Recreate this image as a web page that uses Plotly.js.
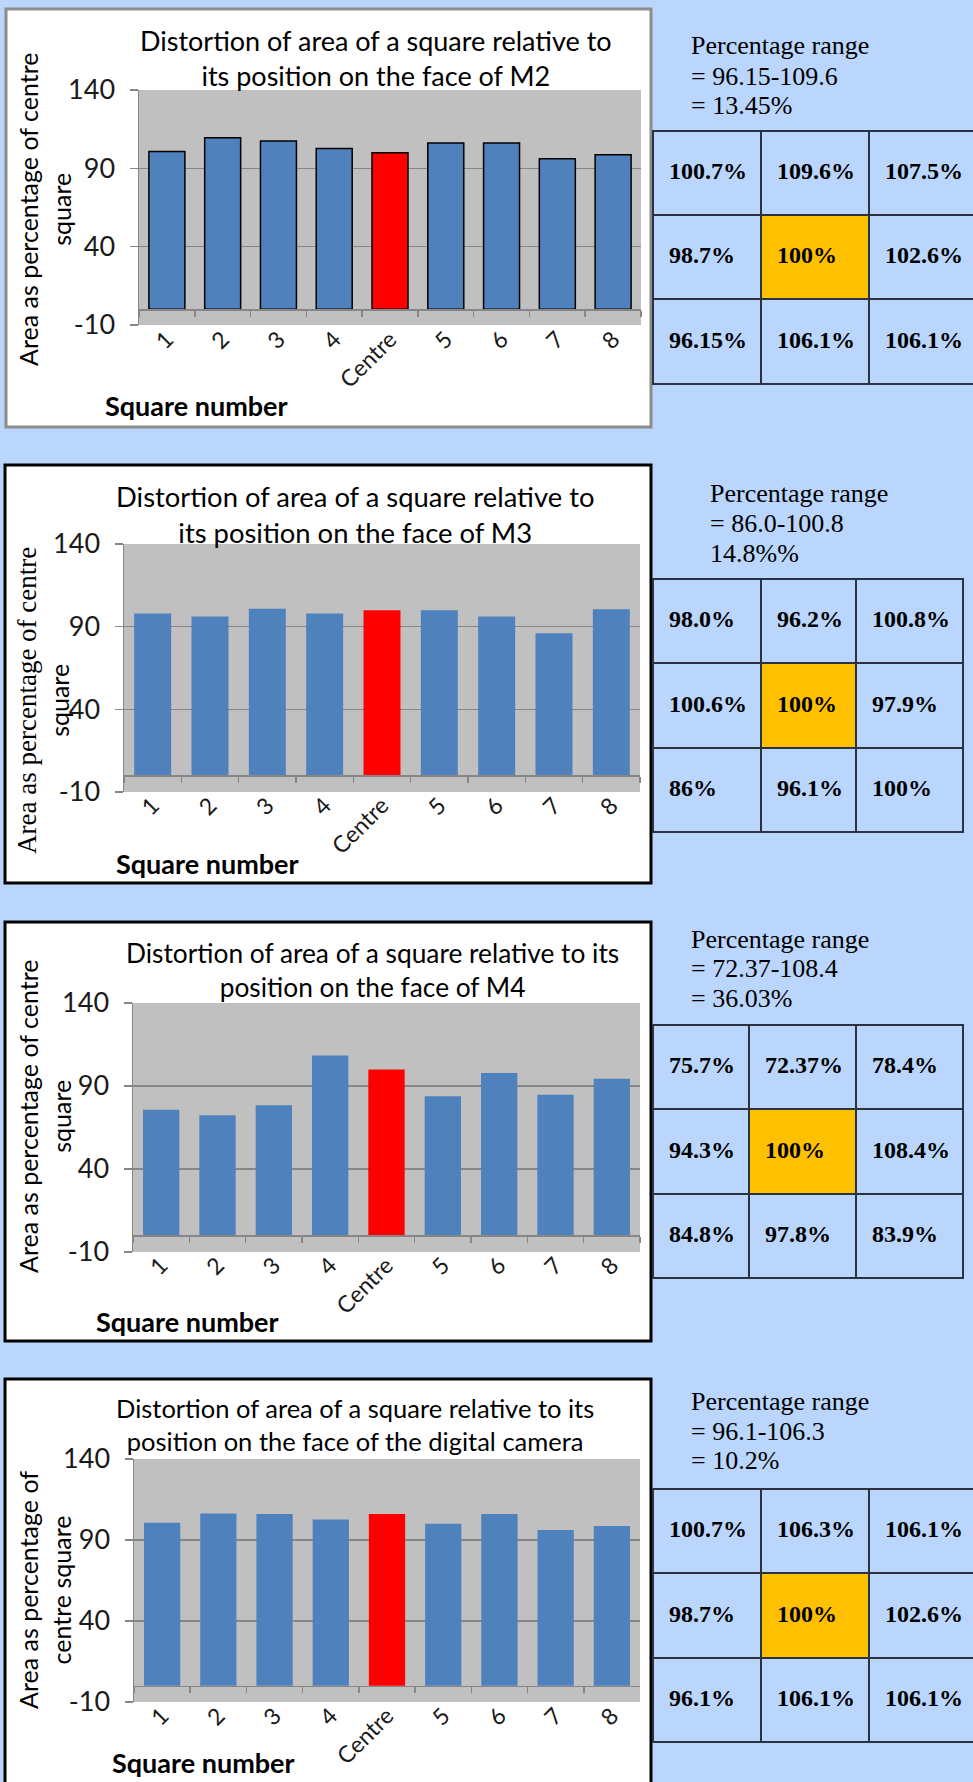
<!DOCTYPE html>
<html>
<head>
<meta charset="utf-8">
<script src="https://cdn.plot.ly/plotly-3.0.1.min.js"></script>
<style>
html, body { margin: 0; padding: 0; background: #BAD6FC; overflow: hidden; }
#chart { width: 985px; height: 1782px; }
</style>
</head>
<body>
<div id="chart"></div>
<script>
// ---------------- data ----------------
const categories = ['1', '2', '3', '4', 'Centre', '5', '6', '7', '8'];
const yTicks = [-10, 40, 90, 140];
const yTickText = ['-10', '40', '90', '140'];

const m2Values  = [100.7, 109.6, 107.5, 102.6, 100, 106.1, 106.1, 96.15, 98.7];
const m3Values  = [98.0, 96.2, 100.8, 97.9, 100, 100, 96.1, 86, 100.6];
const m4Values  = [75.7, 72.37, 78.4, 108.4, 100, 83.9, 97.8, 84.8, 94.3];
const camValues = [100.7, 106.3, 106.1, 102.6, 106.1, 100, 106.1, 96.1, 98.7];

const m2Grid  = [['100.7%', '109.6%', '107.5%'], ['98.7%', '100%', '102.6%'], ['96.15%', '106.1%', '106.1%']];
const m3Grid  = [['98.0%', '96.2%', '100.8%'], ['100.6%', '100%', '97.9%'], ['86%', '96.1%', '100%']];
const m4Grid  = [['75.7%', '72.37%', '78.4%'], ['94.3%', '100%', '108.4%'], ['84.8%', '97.8%', '83.9%']];
const camGrid = [['100.7%', '106.3%', '106.1%'], ['98.7%', '100%', '102.6%'], ['96.1%', '106.1%', '106.1%']];

const m2Range  = ['Percentage range', '= 96.15-109.6', '= 13.45%'];
const m3Range  = ['Percentage range', '= 86.0-100.8', '14.8%%'];
const m4Range  = ['Percentage range', '= 72.37-108.4', '= 36.03%'];
const camRange = ['Percentage range', '= 96.1-106.3', '= 10.2%'];

const m2Title  = 'Distortion of area of a square relative to<br>its position on the face of M2';
const m3Title  = 'Distortion of area of a square relative to<br>its position on the face of M3';
const m4Title  = 'Distortion of area of a square relative to its<br>position on the face of M4';
const camTitle = 'Distortion of area of a square relative to its<br>position on the face of the digital camera';

const yTitleA = 'Area as percentage of centre<br>square';
const yTitleSerif = '<span style="font-family:Liberation Serif;font-size:27px">Area as percentage of centre</span><br>square';
const yTitleB = 'Area as percentage of<br>centre square';
const xTitle = '<b>Square number</b>';

// ---------------- layout helpers ----------------
const W = 985, H = 1782;
const fx = px => px / W;
const fy = py => 1 - py / H;

const BLUE = '#4F81BD', RED = '#FF0000', GRAY_PLOT = '#C0C0C0', GRID = '#868686';
const CELL = '#BAD6FC', ORANGE = '#FFC000', TBL_LINE = '#2b3340';

const panels = [
  {vals: m2Values, grid: m2Grid, range: m2Range, title: m2Title, titleSize: 27, ytitle: yTitleA,
   box: [6, 9, 651, 427], boxLine: '#8c8c8c', plot: [139, 90, 641, 325], outline: 1.5,
   titleXY: [376, 58], yTitleXY: [44, 210], xTitleXY: [196, 405],
   rangeX: 689, rangeY: [45, 76, 106],
   tbl: {x0: 653, y0: 131, cols: [108, 108, 112], rows: [84, 84, 85]}},
  {vals: m3Values, grid: m3Grid, range: m3Range, title: m3Title, titleSize: 27.4, ytitle: yTitleSerif,
   box: [5, 465, 651, 883], boxLine: '#000000', plot: [124, 544, 640, 792], outline: 0,
   titleXY: [355, 514], yTitleXY: [43, 701], xTitleXY: [207, 863],
   rangeX: 708, rangeY: [493, 523, 553],
   tbl: {x0: 653, y0: 579, cols: [108, 95, 107], rows: [84, 85, 84]}},
  {vals: m4Values, grid: m4Grid, range: m4Range, title: m4Title, titleSize: 26.3, ytitle: yTitleA,
   box: [5, 922, 651, 1341], boxLine: '#000000', plot: [133, 1003, 640, 1252], outline: 0,
   titleXY: [372, 970], yTitleXY: [44, 1117], xTitleXY: [187, 1321],
   rangeX: 689, rangeY: [939, 968, 999],
   tbl: {x0: 653, y0: 1025, cols: [96, 107, 107], rows: [84, 85, 84]}},
  {vals: camValues, grid: camGrid, range: camRange, title: camTitle, titleSize: 25.5, ytitle: yTitleB,
   box: [5, 1379, 651, 1800], boxLine: '#000000', plot: [134, 1459, 640, 1702], outline: 0,
   titleXY: [355, 1424], yTitleXY: [44, 1590], xTitleXY: [203, 1762],
   rangeX: 689, rangeY: [1401, 1431, 1460],
   tbl: {x0: 653, y0: 1489, cols: [108, 108, 112], rows: [84, 85, 84]}}
];

const cumsum = arr => arr.reduce((acc, v) => { acc.push(acc[acc.length - 1] + v); return acc; }, [0]);

const traces = [];
const shapes = [];
const annotations = [];
const layout = {
  width: W, height: H,
  margin: {l: 0, r: 0, t: 0, b: 0},
  paper_bgcolor: '#BAD6FC',
  plot_bgcolor: 'rgba(0,0,0,0)',
  showlegend: false,
  bargap: 0.355,
  font: {family: 'Lato', color: '#000000'}
};

// white chart boxes first (drawn lowest)
panels.forEach(p => {
  shapes.push({type: 'rect', xref: 'paper', yref: 'paper', layer: 'below',
    x0: fx(p.box[0]), x1: fx(p.box[2]), y0: fy(p.box[3]), y1: fy(p.box[1]),
    fillcolor: '#FFFFFF', line: {color: p.boxLine, width: 3}});
});

panels.forEach((p, i) => {
  const n = i === 0 ? '' : String(i + 1);
  const [l, t, r, b] = p.plot;
  const yDom = [fy(b), fy(t)];
  const yMin = yTicks[0], yMax = yTicks[yTicks.length - 1];
  const zeroPos = yDom[0] + (0 - yMin) / (yMax - yMin) * (yDom[1] - yDom[0]);

  // grey plot area
  shapes.push({type: 'rect', xref: 'paper', yref: 'paper', layer: 'below',
    x0: fx(l), x1: fx(r), y0: yDom[0], y1: yDom[1], fillcolor: GRAY_PLOT, line: {width: 0}});

  traces.push({
    type: 'bar', x: categories, y: p.vals, xaxis: 'x' + n, yaxis: 'y' + n,
    marker: {color: categories.map(c => c === 'Centre' ? RED : BLUE),
             line: {color: '#000000', width: p.outline}},
    hoverinfo: 'x+y'
  });

  layout['xaxis' + n] = {
    domain: [fx(l), fx(r)], type: 'category', anchor: 'free', position: zeroPos,
    showline: true, linecolor: GRID, linewidth: 1.5,
    ticks: 'outside', tickson: 'boundaries', ticklen: 6, tickcolor: GRID, tickwidth: 1.5,
    tickangle: -45, tickfont: {family: 'Lato', size: 23, color: '#1a1a1a'},
    ticklabelstandoff: 6, showgrid: false, zeroline: false, fixedrange: true
  };
  layout['yaxis' + n] = {
    domain: yDom, anchor: 'x' + n, range: [yMin, yMax], tickvals: yTicks, ticktext: yTickText,
    showgrid: true, gridcolor: GRID, gridwidth: 1.5, zeroline: false,
    showline: true, linecolor: GRID, linewidth: 1.5,
    ticks: 'outside', ticklen: 8, tickcolor: GRID, tickwidth: 1.5, ticklabelstandoff: 9,
    tickfont: {family: 'Lato', size: 27, color: '#1a1a1a'}, fixedrange: true
  };

  // chart title
  annotations.push({xref: 'paper', yref: 'paper', x: fx(p.titleXY[0]), y: fy(p.titleXY[1]),
    xanchor: 'center', yanchor: 'middle', showarrow: false, text: p.title,
    font: {family: 'Lato', size: p.titleSize, color: '#000'}});
  // y title
  annotations.push({xref: 'paper', yref: 'paper', x: fx(p.yTitleXY[0]), y: fy(p.yTitleXY[1]),
    xanchor: 'center', yanchor: 'middle', showarrow: false, textangle: -90, text: p.ytitle,
    font: {family: 'Lato', size: 25, color: '#000'}});
  // x title
  annotations.push({xref: 'paper', yref: 'paper', x: fx(p.xTitleXY[0]), y: fy(p.xTitleXY[1]),
    xanchor: 'center', yanchor: 'middle', showarrow: false, text: xTitle,
    font: {family: 'Lato', size: 27, color: '#000'}});
  // percentage range text
  p.range.forEach((txt, k) => {
    annotations.push({xref: 'paper', yref: 'paper', x: fx(p.rangeX), y: fy(p.rangeY[k]),
      xanchor: 'left', yanchor: 'middle', showarrow: false, text: txt,
      font: {family: 'Liberation Serif', size: 26, color: '#000'}});
  });

  // 3x3 table drawn as heatmap cells + text on its own axes
  const T = p.tbl;
  const xEdges = cumsum(T.cols), yEdges = cumsum(T.rows);
  const tw = xEdges[3], th = yEdges[3];
  const tn = String(i + 5);
  const g = p.grid;
  layout['xaxis' + tn] = {domain: [fx(T.x0), fx(T.x0 + tw)], range: [0, tw], visible: false,
    anchor: 'y' + tn, fixedrange: true};
  layout['yaxis' + tn] = {domain: [fy(T.y0 + th), fy(T.y0)], range: [th, 0], visible: false,
    anchor: 'x' + tn, fixedrange: true};
  // dark backing -> cell borders
  shapes.push({type: 'rect', xref: 'paper', yref: 'paper', layer: 'below',
    x0: fx(T.x0 - 1), x1: fx(T.x0 + tw + 1), y0: fy(T.y0 + th + 1), y1: fy(T.y0 - 1),
    fillcolor: TBL_LINE, line: {width: 0}});
  traces.push({
    type: 'heatmap', xaxis: 'x' + tn, yaxis: 'y' + tn,
    x: xEdges, y: yEdges,
    z: g.map((row, ri) => row.map((v, ci) => (ri === 1 && ci === 1) ? 1 : 0)),
    colorscale: [[0, CELL], [1, ORANGE]], zmin: 0, zmax: 1, showscale: false,
    xgap: 2, ygap: 2, hoverinfo: 'skip'
  });
  const tx = [], ty = [], tt = [];
  g.forEach((row, ri) => row.forEach((v, ci) => {
    tx.push(xEdges[ci] + 16);
    ty.push((yEdges[ri] + yEdges[ri + 1]) / 2);
    tt.push(v);
  }));
  traces.push({
    type: 'scatter', mode: 'text', xaxis: 'x' + tn, yaxis: 'y' + tn,
    x: tx, y: ty, text: tt, textposition: 'middle right', cliponaxis: false,
    textfont: {family: 'Liberation Serif', size: 24, color: '#000', weight: 'bold'},
    hoverinfo: 'skip'
  });
});

layout.shapes = shapes;
layout.annotations = annotations;

Plotly.newPlot('chart', traces, layout, {staticPlot: true, displayModeBar: false});
</script>
</body>
</html>
